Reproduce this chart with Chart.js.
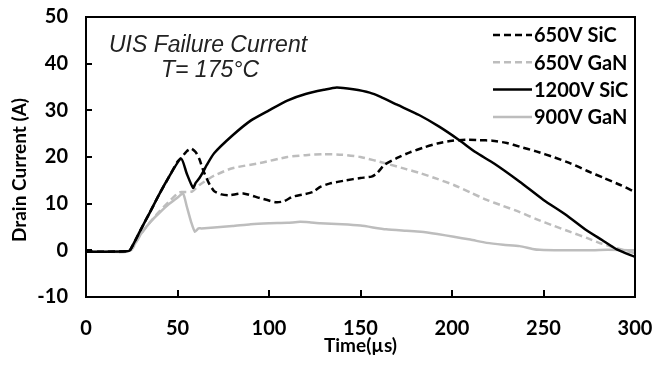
<!DOCTYPE html>
<html>
<head>
<meta charset="utf-8">
<script src="https://cdn.jsdelivr.net/npm/chart.js@4.4.1/dist/chart.umd.min.js"></script>
<style>
  body { margin: 0; background: #fff; }
  canvas { display: block; }
</style>
</head>
<body>
<canvas id="chart" width="654" height="365"></canvas>
<script>
// tick labels
const xTicks = [0, 50, 100, 150, 200, 250, 300];
const yTicks = [-10, 0, 10, 20, 30, 40, 50];

// series names
const seriesNames = ["650V SiC", "650V GaN", "1200V SiC", "900V GaN"];

// 650V SiC
const tSic650 = [0, 10, 22, 24, 30, 35, 40, 45, 50, 52, 55, 57.5, 60, 62, 64, 67, 70, 74, 78, 86, 95, 104, 108, 113, 119, 124, 128, 133, 142, 150, 156, 159, 163, 170, 177, 185, 192, 200, 208, 215, 222, 230, 237, 246, 256, 265, 274, 283, 292, 300];
const iSic650 = [-0.3, -0.3, -0.2, 0, 4.5, 8.2, 12, 15.5, 19.0, 19.8, 21.2, 21.8, 21.0, 19.5, 17.2, 14.5, 12.7, 12.0, 11.8, 12.2, 11.2, 10.3, 10.5, 11.5, 12.0, 12.5, 13.6, 14.3, 15.0, 15.5, 15.8, 16.5, 18.3, 19.8, 21.0, 22.1, 22.9, 23.5, 23.7, 23.6, 23.5, 23.0, 22.2, 21.2, 19.9, 18.6, 17.0, 15.5, 14.0, 12.5];

// 650V GaN
const tGan650 = [0, 10, 22, 25, 30, 35, 40, 45, 50, 52, 58, 62, 70, 80, 95, 110, 120, 130, 140, 150, 164, 175, 183, 192, 201, 210, 219, 228, 237, 246, 256, 265, 274, 282, 290, 295, 300];
const iGan650 = [-0.3, -0.3, -0.3, 0.2, 3.5, 6, 8.3, 10.3, 12.2, 12.5, 12.6, 14.0, 16.0, 17.6, 18.7, 20.0, 20.4, 20.6, 20.5, 20.0, 18.6, 17.4, 16.5, 15.3, 14.0, 12.4, 10.8, 9.5, 8.2, 6.7, 5.2, 3.9, 2.6, 1.4, 0.5, -0.1, -0.6];

// 1200V SiC
const tSic1200 = [0, 10, 22, 24, 30, 35, 40, 45, 52, 55, 58.5, 60, 62, 64, 66, 70, 80, 90, 100, 110, 120, 130, 137, 146, 155, 161, 170, 182, 193, 204, 213, 223, 237, 250, 262, 273.5, 282, 290, 300];
const iSic1200 = [-0.3, -0.3, -0.2, 0, 4.5, 8.2, 12, 15.5, 19.7, 16.5, 13.4, 14.5, 15.5, 16.8, 18.3, 20.8, 24.6, 27.8, 30.0, 32.1, 33.5, 34.4, 34.9, 34.5, 33.8, 32.9, 31.2, 29.0, 26.5, 23.6, 21.0, 18.6, 14.7, 10.8, 7.7, 4.3, 2.2, 0.2, -1.4];

// 900V GaN
const tGan900 = [0, 10, 22, 25, 30, 35, 40, 45, 50, 53, 55, 57.5, 59.5, 61.5, 63, 70, 80, 90, 100, 110, 117, 122, 128, 140, 150, 164, 175, 183, 192, 201, 210, 219, 228, 237, 244, 248, 260, 273, 285, 300];
const iGan900 = [-0.3, -0.3, -0.3, 0.3, 3.5, 6.0, 8.0, 9.8, 11.3, 12.2, 9.5, 6.0, 4.0, 4.7, 4.7, 4.9, 5.2, 5.6, 5.8, 5.9, 6.1, 6.0, 5.8, 5.6, 5.3, 4.5, 4.2, 4.0, 3.5, 2.9, 2.3, 1.6, 1.2, 0.9, 0.3, 0.1, 0.0, 0.0, 0.1, 0.0];

const toPoints = (t, v) => t.map((x, k) => ({ x: x, y: v[k] }));

const BLACK = "#000000";
const GRAY = "#bdbdbd";
const DASH = [7, 4];
const boldFont = "Lato";

// line styles for each series, in legend order
const styles = [
  { color: BLACK, dash: DASH },
  { color: GRAY, dash: DASH },
  { color: BLACK, dash: [] },
  { color: GRAY, dash: [] },
];
const seriesData = [
  toPoints(tSic650, iSic650),
  toPoints(tGan650, iGan650),
  toPoints(tSic1200, iSic1200),
  toPoints(tGan900, iGan900),
];

// frame, inner tick marks, annotation and legend
const decor = {
  id: "decor",
  afterDraw(chart) {
    const { ctx, chartArea: a, scales } = chart;
    ctx.save();
    ctx.strokeStyle = BLACK;
    ctx.lineWidth = 2;
    ctx.setLineDash([]);
    ctx.strokeRect(a.left, a.top, a.right - a.left, a.bottom - a.top);

    ctx.beginPath();
    xTicks.slice(1, -1).forEach(v => {
      const px = Math.round(scales.x.getPixelForValue(v));
      ctx.moveTo(px, a.bottom);
      ctx.lineTo(px, a.bottom - 7);
    });
    yTicks.slice(1, -1).forEach(v => {
      const py = Math.round(scales.y.getPixelForValue(v));
      ctx.moveTo(a.left, py);
      ctx.lineTo(a.left + 6, py);
    });
    ctx.stroke();

    // y axis title
    ctx.fillStyle = BLACK;
    ctx.font = "bold 19px " + boldFont;
    ctx.textAlign = "center";
    ctx.textBaseline = "middle";
    ctx.save();
    ctx.translate(20, 170);
    ctx.rotate(-Math.PI / 2);
    ctx.fillText("Drain Current (A)", 0, 0);
    ctx.restore();

    // note in upper left
    ctx.fillStyle = "#222";
    ctx.font = "italic 23px 'Liberation Sans'";
    ctx.textBaseline = "alphabetic";
    ctx.fillText("UIS Failure Current", 208, 52);
    ctx.fillText("T= 175°C", 210, 77);

    // legend
    ctx.font = "bold 20px " + boldFont;
    ctx.textAlign = "left";
    ctx.textBaseline = "middle";
    seriesNames.forEach((name, k) => {
      const y = 35 + k * 27.3;
      ctx.strokeStyle = styles[k].color;
      ctx.lineWidth = 2.5;
      ctx.setLineDash(styles[k].dash);
      ctx.beginPath();
      ctx.moveTo(493, y);
      ctx.lineTo(532, y);
      ctx.stroke();
      ctx.fillStyle = BLACK;
      ctx.fillText(name, 534, y + 1);
    });
    ctx.restore();
  },
};

new Chart(document.getElementById("chart"), {
  type: "line",
  data: {
    datasets: seriesNames.map((name, k) => ({
      label: name,
      data: seriesData[k],
      borderColor: styles[k].color,
      borderDash: styles[k].dash,
      borderWidth: 2.5,
      pointRadius: 0,
      tension: 0.2,
      fill: false,
      order: [1, 3, 0, 2][k],
    })),
  },
  options: {
    responsive: false,
    animation: false,
    layout: { padding: { left: 0, top: 17, right: 19, bottom: 0 } },
    plugins: {
      legend: { display: false },
      tooltip: { enabled: false },
    },
    scales: {
      x: {
        type: "linear",
        min: 0,
        max: 300,
        afterBuildTicks: s => { s.ticks = xTicks.map(v => ({ value: v })); },
        afterFit: s => {
          s.height = 68;
          s.paddingLeft = 0;
          s.paddingRight = 0;
        },
        grid: { display: false, drawTicks: false },
        border: { display: false },
        ticks: {
          color: BLACK,
          padding: 20,
          maxRotation: 0,
          font: { family: boldFont, size: 20, weight: "bold" },
        },
        title: {
          display: true,
          text: "Time(µs)",
          color: BLACK,
          padding: { top: 0, bottom: 8 },
          font: { family: boldFont, size: 19, weight: "bold" },
        },
      },
      y: {
        min: -10,
        max: 50,
        afterBuildTicks: s => { s.ticks = yTicks.map(v => ({ value: v })); },
        afterFit: s => {
          s.width = 86;
          s.paddingTop = 0;
          s.paddingBottom = 0;
        },
        grid: { display: false, drawTicks: false },
        border: { display: false },
        ticks: {
          color: BLACK,
          padding: 18,
          font: { family: boldFont, size: 20, weight: "bold" },
        },
      },
    },
  },
  plugins: [decor],
});
</script>
</body>
</html>
